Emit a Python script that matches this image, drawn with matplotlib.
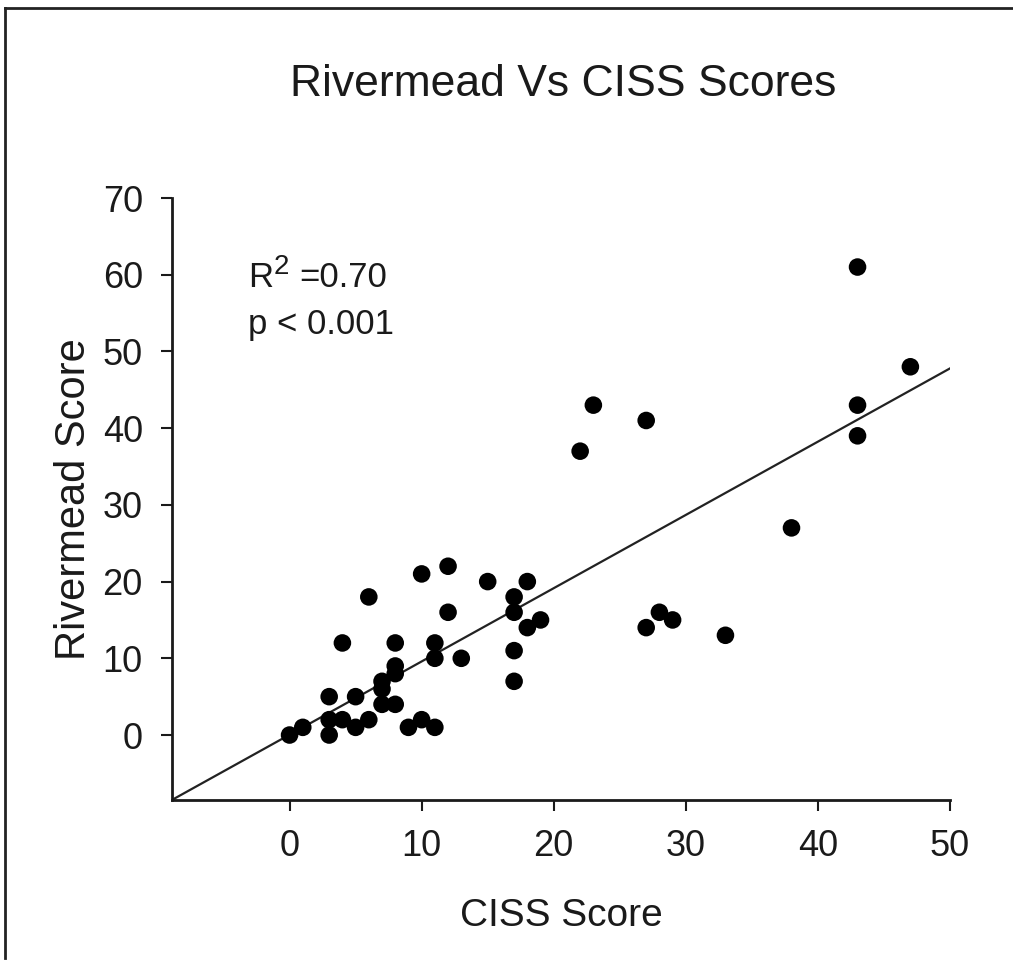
import matplotlib.pyplot as plt
import numpy as np
from matplotlib.lines import Line2D

plt.rcParams['font.family'] = ['Liberation Sans', 'DejaVu Sans']

# CISS vs Rivermead scores, one entry per patient
ciss = [0, 1, 3, 3, 3, 4, 4, 5, 5, 6, 6, 7, 7, 7, 8, 8, 8, 8, 9, 10,
        10, 11, 11, 11, 12, 12, 13, 15, 17, 17, 17, 17, 18, 18, 19,
        22, 23, 27, 27, 28, 29, 33, 38, 43, 43, 43, 47]
rivermead = [0, 1, 0, 2, 5, 2, 12, 5, 1, 2, 18, 7, 6, 4, 4, 9, 8, 12, 1, 2,
             21, 1, 12, 10, 22, 16, 10, 20, 18, 16, 11, 7, 20, 14, 15,
             37, 43, 41, 14, 16, 15, 13, 27, 61, 43, 39, 48]

# regression line
slope = 0.955
intercept = 0.04
r2_text = "=0.70"
p_text = "p < 0.001"

fig = plt.figure(figsize=(10.13, 9.64), dpi=100)
ax = fig.add_axes([172/1013, 1-800/964, (950-172)/1013, (800-198)/964])

ax.scatter(ciss, rivermead, s=160, color='black', edgecolors='none', zorder=3)

xl = np.array([-8.9, 50])
ax.plot(xl, slope*xl + intercept, color='#222222', lw=1.6, zorder=2)

ax.set_xlim(-8.9, 50)
ax.set_ylim(-8.47, 70)
ax.set_xticks(range(0, 51, 10))
ax.set_yticks(range(0, 71, 10))
ax.spines['top'].set_visible(False)
ax.spines['right'].set_visible(False)
for s in ['left', 'bottom']:
    ax.spines[s].set_linewidth(2)
    ax.spines[s].set_color('#1a1a1a')
ax.tick_params(direction='out', length=8, width=1.5, labelsize=26,
               pad=13, colors='#1a1a1a')

ax.set_xlabel('CISS Score', fontsize=28, labelpad=24, color='#1a1a1a')
ax.set_ylabel('Rivermead Score', fontsize=30, labelpad=6, color='#1a1a1a')
fig.text(0.556, 0.912, 'Rivermead Vs CISS Scores', fontsize=32,
         ha='center', va='center', color='#1a1a1a')

# R^2 with a large raised "2", then the p value below
ax.text(0.098, 0.868, 'R', transform=ax.transAxes,
        fontsize=25, color='#1a1a1a', va='center')
ax.text(0.131, 0.886, '2', transform=ax.transAxes,
        fontsize=20, color='#1a1a1a', va='center')
ax.text(0.163, 0.868, r2_text, transform=ax.transAxes,
        fontsize=25, color='#1a1a1a', va='center')
ax.text(0.098, 0.79, p_text, transform=ax.transAxes,
        fontsize=25, color='#1a1a1a', va='center')

# frame around the figure
fig.add_artist(Line2D([5/1013, 5/1013], [1-8/964, 1-958/964], color='#222222', lw=2))
fig.add_artist(Line2D([5/1013, 1.0], [1-8/964, 1-8/964], color='#222222', lw=2))

fig.savefig('out.png', dpi=100)
